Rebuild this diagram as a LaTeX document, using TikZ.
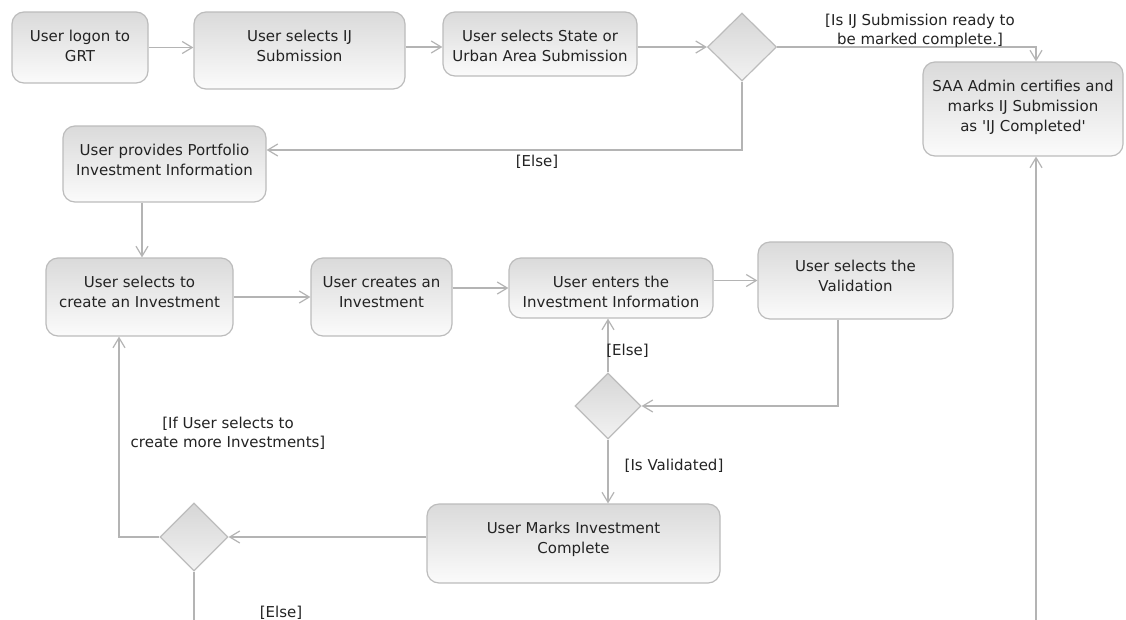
\documentclass[tikz,border=0pt]{standalone}
\usepackage{fontspec}
\setmainfont{DejaVu Sans}
\usetikzlibrary{arrows.meta,shapes.geometric}
\definecolor{boxline}{RGB}{188,188,188}
\definecolor{boxtop}{RGB}{218,218,218}
\definecolor{boxbot}{RGB}{251,251,251}
\definecolor{dectop}{RGB}{214,214,214}
\definecolor{decbot}{RGB}{242,242,242}
\definecolor{lineclr}{RGB}{180,180,180}
\definecolor{txt}{RGB}{35,35,35}
\newcommand{\fs}{\fontsize{15}{20}\selectfont}
\newcommand{\fl}{\fontsize{15}{19}\selectfont}
\newcommand{\bx}[3]{\parbox[c][#2pt][t]{#1pt}{\centering\vspace*{15pt}\strut #3}}
\tikzset{
  act/.style={draw=boxline, line width=1.2pt, rounded corners=12pt,
    top color=boxtop, bottom color=boxbot, inner sep=0pt, font=\fs, text=txt},
  dec/.style={diamond, draw=boxline, line width=1.2pt, top color=dectop,
    bottom color=decbot, inner sep=0pt},
  ln/.style={draw=lineclr, line width=1.2pt},
  arr/.style={ln, -{Straight Barb[length=10pt,width=12pt,line width=1.2pt]}},
  lbl/.style={font=\fl, align=center, inner sep=0pt, text=txt},
}
\begin{document}
\begin{tikzpicture}[x=1pt,y=-1pt]
\useasboundingbox (0,0) rectangle (1126,619);
\fill[white] (0,0) rectangle (1126,619);
\clip (0,0) rectangle (1126,619);

% activity nodes
\node[act] (logon) at (80,47.5) {\bx{136}{71}{User logon to\\GRT}};
\node[act] (selIJ) at (299.5,50.5) {\bx{211}{77}{User selects IJ\\Submission}};
\node[act] (selState) at (540,44) {\bx{194}{64}{User selects State or\\Urban Area Submission}};
\node[dec, minimum width=69pt, minimum height=68pt] (d1) at (742,47) {};
\node[act] (saa) at (1023,109) {\bx{200}{94}{SAA Admin certifies and\\marks IJ Submission\\as \textquotesingle IJ Completed\textquotesingle}};
\node[act] (portfolio) at (164.5,164) {\bx{203}{76}{User provides Portfolio\\Investment Information}};
\node[act] (selCreate) at (139.5,297) {\bx{187}{78}{User selects to\\create an Investment}};
\node[act] (creates) at (381.5,297) {\bx{141}{78}{User creates an\\Investment}};
\node[act] (enters) at (611,288) {\bx{204}{60}{User enters the\\Investment Information}};
\node[act] (valid) at (855.5,280.5) {\bx{195}{77}{User selects the\\Validation}};
\node[dec, minimum width=66pt, minimum height=66pt] (d2) at (608,406) {};
\node[act] (marks) at (573.5,543.5) {\bx{293}{79}{User Marks Investment\\Complete}};
\node[dec, minimum width=68pt, minimum height=68pt] (d3) at (194,537) {};

\coordinate (end3) at (194,630);
\coordinate (startS) at (1036,630);

% connectors
\draw[arr] (logon.east) -- (logon.east -| selIJ.west);
\draw[arr] (selIJ.east |- d1) -- (selState.west |- d1);
\draw[arr] (selState.east |- d1) -- (d1.west);
\draw[arr] (d1.east) -| ([xshift=13pt]saa.north);
\draw[arr] (d1.south) |- ([yshift=14pt]portfolio.east);
\draw[arr] ([xshift=-22.5pt]portfolio.south) -- ([xshift=-22.5pt]portfolio.south |- selCreate.north);
\draw[arr] (selCreate.east |- creates) -- (creates.west);
\draw[arr] (creates.east |- enters) -- (enters.west);
\draw[arr] (enters.east |- valid) -- (valid.west);
\draw[arr] ([xshift=-17.5pt]valid.south) |- (d2.east);
\draw[arr] (d2.north) -- (d2.north |- enters.south);
\draw[arr] (d2.south) -- (d2.south |- marks.north);
\draw[arr] (marks.west |- d3) -- (d3.east);
\draw[arr] (d3.west) -| ([xshift=-20.5pt]selCreate.south);
\draw[ln] (d3.south) -- (end3);
\draw[arr] (startS) -- (startS |- saa.south);

% guard labels
\node[lbl, anchor=north] (g1) at (920,11.7) {\strut[Is IJ Submission ready to\\be marked complete.]};
\node[lbl, anchor=base] (g2) at (537,166) {[Else]};
\node[lbl, anchor=base] (g3) at (627.5,355) {[Else]};
\node[lbl, anchor=base] (g4) at (674,470) {[Is Validated]};
\node[lbl, anchor=north] (g5) at (228,414.7) {\strut[If User selects to\\create more Investments]};
\node[lbl, anchor=base] (g6) at (281,617.5) {[Else]};
\end{tikzpicture}
\end{document}
